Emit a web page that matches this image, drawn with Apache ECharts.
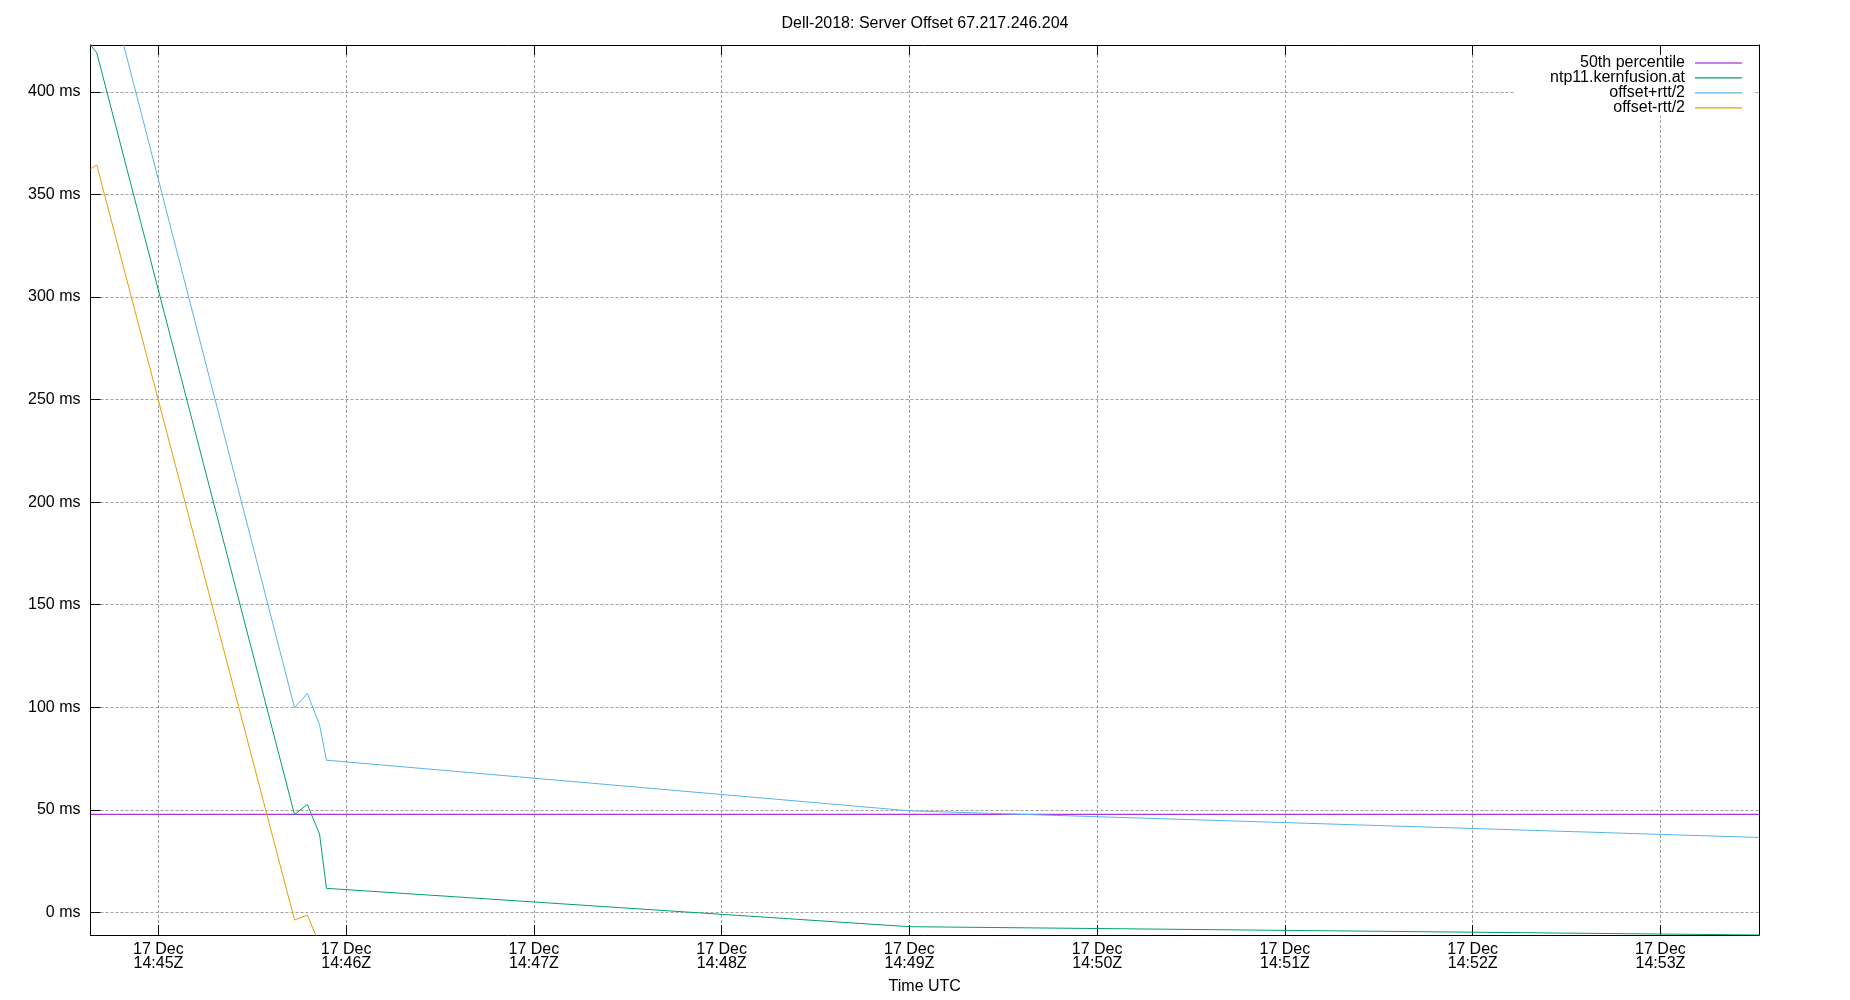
<!DOCTYPE html>
<html>
<head>
<meta charset="utf-8">
<script src="https://cdn.jsdelivr.net/npm/echarts@6/dist/echarts.min.js"></script>
<style>
html,body{margin:0;padding:0;background:#fff;}
#chart{width:1850px;height:1000px;}
</style>
</head>
<body>
<div id="chart"></div>
<script>
// ---- data ----
const titleText = 'Dell-2018: Server Offset 67.217.246.204';
const times = [
  '2018-12-17T14:44:38.300Z', '2018-12-17T14:44:40.300Z', '2018-12-17T14:45:43.500Z',
  '2018-12-17T14:45:47.600Z', '2018-12-17T14:45:51.500Z', '2018-12-17T14:45:53.700Z',
  '2018-12-17T14:49:00.000Z', '2018-12-17T14:53:31.500Z'
];
const offsetMs = [422.9, 419.1, 47.7, 52.6, 38.1, 11.7, -7.0, -11.05];
const plusHalfRtt = [483.3, 473.8, 99.8, 106.7, 91.4, 74.2, 49.5, 36.5];
const minusHalfRtt = [362.5, 364.4, -3.75, -1.3, -15.5, -50.8, -63.5, -58.7];
const median50 = 47.8;
const xRange = ['2018-12-17T14:44:38.300Z', '2018-12-17T14:53:31.500Z'];
const yRange = [-11.05, 422.9];
const seriesNames = ['50th percentile', 'ntp11.kernfusion.at', 'offset+rtt/2', 'offset-rtt/2'];
const seriesColors = ['#9400d3', '#009e73', '#56b4e9', '#e69f00'];
const months = ['Jan','Feb','Mar','Apr','May','Jun','Jul','Aug','Sep','Oct','Nov','Dec'];

// ---- build ----
const tms = times.map(t => Date.parse(t));
const xMin = Date.parse(xRange[0]);
const xMax = Date.parse(xRange[1]);
const pair = arr => tms.map((t, i) => [t, arr[i]]);
const pad = n => (n < 10 ? '0' : '') + n;
const FONT = 'Liberation Sans, Arial, sans-serif';

const chart = echarts.init(document.getElementById('chart'), null, {renderer: 'canvas'});

const gridLine = {show: true, lineStyle: {color: '#a0a0a0', width: 1, type: [3, 2]}, showMinLine: false, showMaxLine: false};
const blackLine = {show: true, onZero: false, lineStyle: {color: '#000', width: 1}};

const option = {
  useUTC: true,
  animation: false,
  backgroundColor: '#fff',
  textStyle: {fontFamily: FONT},
  title: {
    text: titleText, left: 'center', top: 11,
    textStyle: {fontFamily: FONT, fontSize: 16, fontWeight: 'normal', color: '#000', lineHeight: 16}
  },
  legend: {
    data: seriesNames.map(n => ({name: n, icon: 'rect'})),
    orient: 'vertical', right: 97, top: 55, align: 'right',
    itemWidth: 47, itemHeight: 1.2, itemGap: -1.07,
    padding: [0, 11, 0, 35],
    backgroundColor: '#fff',
    selectedMode: false,
    textStyle: {fontFamily: FONT, fontSize: 16, color: '#000', lineHeight: 15, padding: [0, 5, 0, 0]}
  },
  grid: {left: 90.5, right: 91, top: 45, bottom: 64, containLabel: false},
  xAxis: [{
    type: 'time', min: xMin, max: xMax, position: 'bottom',
    minInterval: 60000, maxInterval: 60000,
    name: 'Time UTC', nameLocation: 'middle', nameGap: 44,
    nameTextStyle: {fontFamily: FONT, fontSize: 16, color: '#000', lineHeight: 16},
    axisLine: blackLine,
    axisTick: {show: true, inside: true, length: 10, lineStyle: {color: '#000', width: 1}},
    axisLabel: {
      show: true, margin: 8, showMinLabel: false, showMaxLabel: false,
      fontFamily: FONT, fontSize: 16, color: '#000', lineHeight: 14,
      formatter: function (v) {
        const d = new Date(v);
        return d.getUTCDate() + ' ' + months[d.getUTCMonth()] + '\n' + pad(d.getUTCHours()) + ':' + pad(d.getUTCMinutes()) + 'Z';
      }
    },
    splitLine: gridLine
  }, {
    type: 'time', min: xMin, max: xMax, position: 'top',
    minInterval: 60000, maxInterval: 60000,
    axisLine: blackLine,
    axisTick: {show: true, inside: true, length: 10, lineStyle: {color: '#000', width: 1}},
    axisLabel: {show: false},
    splitLine: {show: false}
  }],
  yAxis: [{
    type: 'value', min: yRange[0], max: yRange[1], splitNumber: 9, position: 'left',
    axisLine: blackLine,
    axisTick: {show: true, inside: true, length: 10, lineStyle: {color: '#000', width: 1}},
    axisLabel: {
      show: true, margin: 10, showMinLabel: false, showMaxLabel: false,
      fontFamily: FONT, fontSize: 16, color: '#000',
      formatter: function (v) { return (Math.abs(v % 50) < 1e-6) ? (Math.round(v) + ' ms') : ''; }
    },
    splitLine: gridLine
  }, {
    type: 'value', min: yRange[0], max: yRange[1], splitNumber: 9, position: 'right',
    axisLine: blackLine,
    axisTick: {show: false}, axisLabel: {show: false}, splitLine: {show: false}
  }],
  series: [
    {
      name: seriesNames[0], type: 'line', symbol: 'none', color: seriesColors[0],
      lineStyle: {width: 1, color: seriesColors[0]},
      data: [[xMin, median50], [xMax, median50]], clip: true
    },
    {
      name: seriesNames[1], type: 'line', symbol: 'none', color: seriesColors[1],
      lineStyle: {width: 1, color: seriesColors[1]}, data: pair(offsetMs), clip: true
    },
    {
      name: seriesNames[2], type: 'line', symbol: 'none', color: seriesColors[2],
      lineStyle: {width: 1, color: seriesColors[2]}, data: pair(plusHalfRtt), clip: true
    },
    {
      name: seriesNames[3], type: 'line', symbol: 'none', color: seriesColors[3],
      lineStyle: {width: 1, color: seriesColors[3]}, data: pair(minusHalfRtt), clip: true
    }
  ]
};
chart.setOption(option);
</script>
</body>
</html>
